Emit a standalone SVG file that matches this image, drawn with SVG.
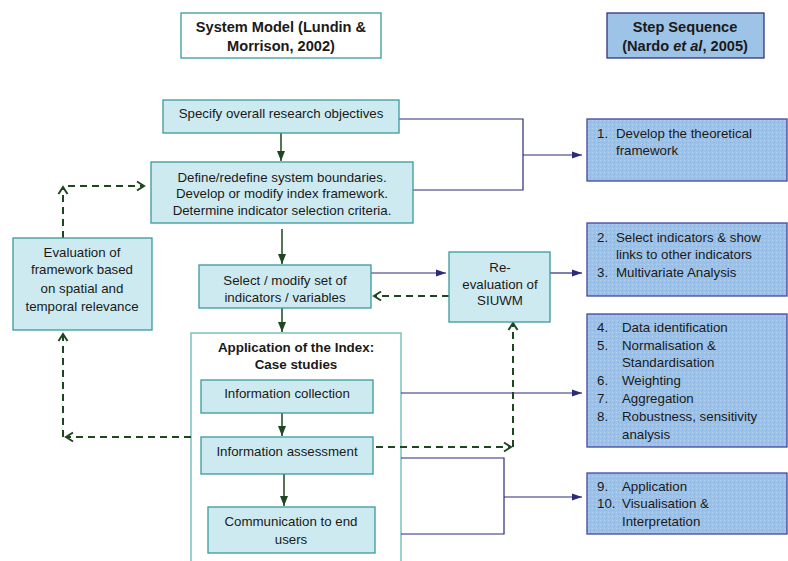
<svg xmlns="http://www.w3.org/2000/svg" width="788" height="561" viewBox="0 0 788 561">
<defs>
<marker id="gTri" markerUnits="userSpaceOnUse" markerWidth="10" markerHeight="10" viewBox="0 0 10 10" refX="10" refY="5" orient="auto"><path d="M0,1 L10,5 L0,9 z" fill="#1e4620"/></marker>
<marker id="nTri" markerUnits="userSpaceOnUse" markerWidth="10" markerHeight="10" viewBox="0 0 10 10" refX="10" refY="5" orient="auto"><path d="M0,1.5 L10,5 L0,8.5 z" fill="#2b2b7a"/></marker>
<marker id="chev" markerUnits="userSpaceOnUse" markerWidth="12" markerHeight="12" viewBox="0 0 12 12" refX="10" refY="6" orient="auto"><path d="M3,1.5 L10,6 L3,10.5" fill="none" stroke="#1e4620" stroke-width="2"/></marker>
<pattern id="tex" width="4" height="4" patternUnits="userSpaceOnUse"><rect width="4" height="4" fill="#9cc2ea"/><rect width="1" height="1" fill="#b4d2f0"/><rect x="2" y="2" width="1" height="1" fill="#8ab4e0"/></pattern>
</defs>
<style>
text{font-family:"Liberation Sans",Arial,sans-serif;font-size:13.3px;fill:#1a1a1a}
.c{text-anchor:middle}
.b{font-weight:bold;font-size:14.6px}
.tb{fill:#cdeaf0;stroke:#3a9a9a;stroke-width:1.3}
.sb{fill:url(#tex);stroke:#4646a0;stroke-width:1.3}
.g{fill:none;stroke:#1e4620;stroke-width:1.5}
.d{fill:none;stroke:#1e4620;stroke-width:2;stroke-dasharray:7,5}
.n{fill:none;stroke:#2b2b7a;stroke-width:1.2}
</style>
<g id="header-system">
<rect x="181" y="13" width="200" height="45" fill="#ffffff" stroke="#3a9a9a" stroke-width="1.3"/>
<text class="c b" x="281" y="32">System Model (Lundin &amp;</text>
<text class="c b" x="281" y="51">Morrison, 2002)</text>
</g>
<g id="header-step">
<rect x="607" y="13" width="157" height="45" fill="#9dc3e6" stroke="#333380" stroke-width="1.3"/>
<text class="c b" x="685" y="32">Step Sequence</text>
<text class="c b" x="685" y="51">(Nardo <tspan font-style="italic">et al</tspan>, 2005)</text>
</g>
<g id="application">
<rect x="191" y="333" width="210" height="240" fill="#ffffff" stroke="#7fc0c0" stroke-width="1.5"/>
<text class="c b" x="296" y="352" style="font-size:13.4px">Application of the Index:</text>
<text class="c b" x="296" y="369" style="font-size:13.4px">Case studies</text>
</g>
<g id="connectors">
<line class="g" x1="281" y1="133" x2="281" y2="161" marker-end="url(#gTri)"/>
<line class="g" x1="282" y1="229" x2="282" y2="264" marker-end="url(#gTri)"/>
<line class="g" x1="282" y1="308" x2="282" y2="332" marker-end="url(#gTri)"/>
<line class="g" x1="282" y1="413" x2="282" y2="436" marker-end="url(#gTri)"/>
<line class="g" x1="284" y1="474" x2="284" y2="506" marker-end="url(#gTri)"/>
<polyline class="n" points="399,119 523,119 523,190 413,190"/>
<line class="n" x1="523" y1="155" x2="582" y2="155" marker-end="url(#nTri)"/>
<line class="n" x1="371" y1="273" x2="446" y2="273" marker-end="url(#nTri)"/>
<line class="n" x1="550" y1="273" x2="582" y2="273" marker-end="url(#nTri)"/>
<line class="n" x1="401" y1="393" x2="582" y2="393" marker-end="url(#nTri)"/>
<polyline class="n" points="401,458 504,458 504,534 401,534"/>
<line class="n" x1="504" y1="497" x2="582" y2="497" marker-end="url(#nTri)"/>
<line class="d" x1="449" y1="296" x2="374" y2="296" marker-end="url(#chev)"/>
<line class="d" x1="63" y1="238" x2="63" y2="187" marker-end="url(#chev)"/>
<line class="d" x1="68" y1="186" x2="144" y2="186" marker-end="url(#chev)"/>
<line class="d" x1="191" y1="437" x2="66" y2="437" marker-end="url(#chev)"/>
<line class="d" x1="63" y1="437" x2="63" y2="334" marker-end="url(#chev)"/>
<line class="d" x1="376" y1="447" x2="511" y2="447" marker-end="url(#chev)"/>
<line class="d" x1="513" y1="447" x2="513" y2="323" marker-end="url(#chev)"/>
</g>
<g id="specify">
<rect class="tb" x="163" y="100" width="236" height="33"/>
<text class="c" x="281" y="118">Specify overall research objectives</text>
</g>
<g id="define">
<rect class="tb" x="151" y="162" width="262" height="61"/>
<text class="c" x="282" y="182">Define/redefine system boundaries.</text>
<text class="c" x="282" y="198">Develop or modify index framework.</text>
<text class="c" x="282" y="215">Determine indicator selection criteria.</text>
</g>
<g id="evaluation">
<rect class="tb" x="13" y="238" width="139" height="92"/>
<text class="c" x="82" y="257">Evaluation of</text>
<text class="c" x="82" y="274">framework based</text>
<text class="c" x="82" y="293">on spatial and</text>
<text class="c" x="82" y="311">temporal relevance</text>
</g>
<g id="select">
<rect class="tb" x="199" y="265" width="172" height="43"/>
<text class="c" x="285" y="285">Select / modify set of</text>
<text class="c" x="285" y="302">indicators / variables</text>
</g>
<g id="reevaluation">
<rect class="tb" x="449" y="252" width="101" height="70"/>
<text class="c" x="500" y="272">Re-</text>
<text class="c" x="500" y="289">evaluation of</text>
<text class="c" x="500" y="305">SIUWM</text>
</g>
<g id="collection">
<rect class="tb" x="201" y="380" width="172" height="33"/>
<text class="c" x="287" y="398">Information collection</text>
</g>
<g id="assessment">
<rect class="tb" x="201" y="437" width="172" height="37"/>
<text class="c" x="287" y="456">Information assessment</text>
</g>
<g id="communication">
<rect class="tb" x="208" y="507" width="167" height="46"/>
<text class="c" x="291" y="526">Communication to end</text>
<text class="c" x="291" y="544">users</text>
</g>
<g id="step1">
<rect class="sb" x="587" y="119" width="200" height="62"/>
<text x="597" y="138">1.</text><text x="616" y="138">Develop the theoretical</text>
<text x="616" y="155">framework</text>
</g>
<g id="step2">
<rect class="sb" x="587" y="223" width="200" height="73"/>
<text x="597" y="242">2.</text><text x="616" y="242">Select indicators &amp; show</text>
<text x="616" y="259">links to other indicators</text>
<text x="597" y="277">3.</text><text x="616" y="277">Multivariate Analysis</text>
</g>
<g id="step3">
<rect class="sb" x="587" y="314" width="200" height="133"/>
<text x="597" y="332">4.</text><text x="622" y="332">Data identification</text>
<text x="597" y="350">5.</text><text x="622" y="350">Normalisation &amp;</text>
<text x="622" y="367">Standardisation</text>
<text x="597" y="385">6.</text><text x="622" y="385">Weighting</text>
<text x="597" y="403">7.</text><text x="622" y="403">Aggregation</text>
<text x="597" y="421">8.</text><text x="622" y="421">Robustness, sensitivity</text>
<text x="622" y="439">analysis</text>
</g>
<g id="step4">
<rect class="sb" x="587" y="473" width="200" height="61"/>
<text x="597" y="491">9.</text><text x="622" y="491">Application</text>
<text x="597" y="508">10.</text><text x="622" y="508">Visualisation &amp;</text>
<text x="622" y="526">Interpretation</text>
</g>
</svg>
